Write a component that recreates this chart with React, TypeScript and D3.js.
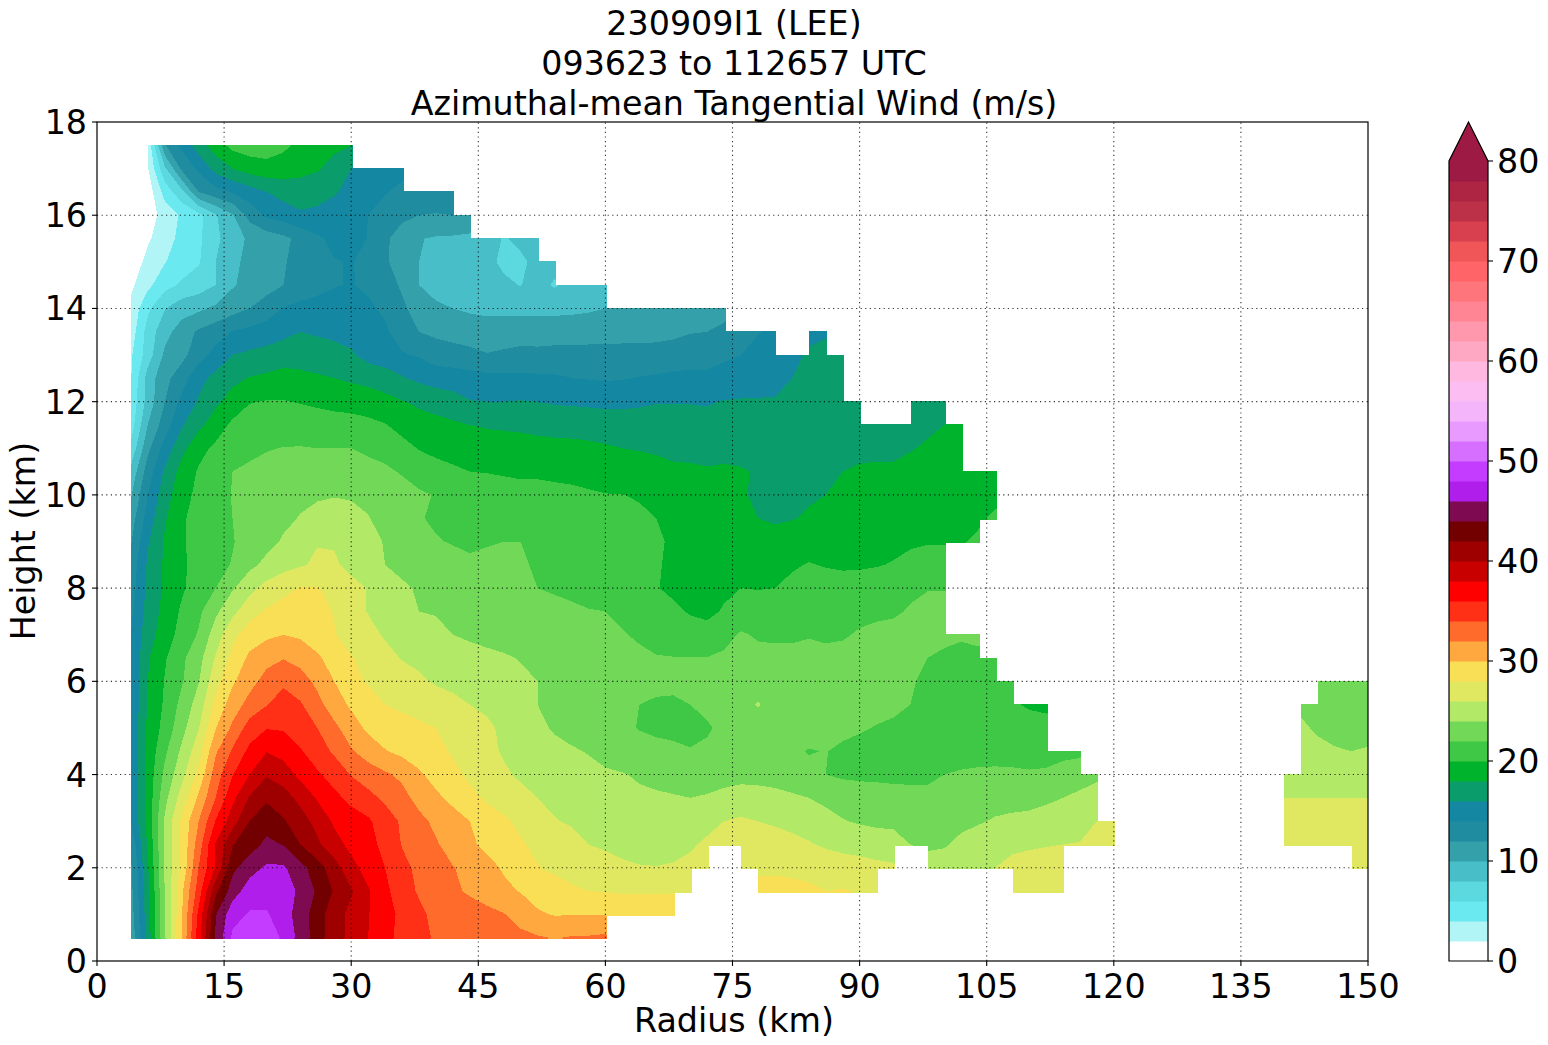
import * as React from 'react'
import * as d3 from 'd3'

const titleLines = ['230909I1 (LEE)', '093623 to 112657 UTC', 'Azimuthal-mean Tangential Wind (m/s)']
const xTicks = [0, 15, 30, 45, 60, 75, 90, 105, 120, 135, 150]
const yTicks = [0, 2, 4, 6, 8, 10, 12, 14, 16, 18]
const barTicks = [0, 10, 20, 30, 40, 50, 60, 70, 80]

// one colour per 2 m/s band, starting at 0
const bandColors = [
    '#ffffff', '#b2f5f7', '#6aeaf0', '#5bd9df', '#47bec8', '#34a0aa', '#1f8ca0', '#1488a2',
    '#0a9c6a', '#00b32d', '#3ec845', '#72d858', '#b2ea68', '#e0e862', '#f8df55', '#ffa840',
    '#ff6b2b', '#ff3016', '#ff0000', '#c80000', '#9e0000', '#720000', '#7e0a52', '#af1eea',
    '#c33cff', '#d66fff', '#e89aff', '#f4b5fb', '#fcbdf2', '#ffb8df', '#ffa8c4', '#ff97ad',
    '#ff8595', '#ff757c', '#ff6468', '#f05558', '#d8404f', '#bd3148', '#ad2543', '#9c1a44',
]

// wind by height, every 2 km starting at the radius given in windRows
const z05 = [10.5,16.8,23.9,30,37.2,44.3,48.4,49.5,49.5,47.6,45.3,43,40.8,39.5,38,36.5,35.5,34.5,33.8,33.4,33.2,33,32.8,32.5,32.2,31.9,32.15,32.2,32.4]
const z10 = [11,17.2,23.9,29.8,36.5,43.8,47.3,48.2,48.2,47,45,43,40.8,39.5,38.1,36.8,35.5,34.4,33.5,33.3,33,32.6,32.1,31.2,30.2,29.9,29.9,29.95,29.9,29.6,29.4,29.2,29]
const z15a = [11.4,17.4,24,29.6,35,41.5,45,47,47.2,47,45.6,43.7,41.8,40.2,38.2,36.5,34.8,33.8,33,32.4,31.7,31,30.4,29.9,29.4,28.9,28.3,28,27.9,27.8,27.8,27.8,27.9,27.7]
const z15b = [28.6,28.6,28.5,28.3,28,28.1,27.9,27.7]
const z15c = [27,27,27,27]
const z20a = [11.7,17.8,24.3,28.4,34,38.2,43.5,45.2,46.3,46.3,44.7,42.9,40.9,38.6,37.3,36,34.5,33.6,32.9,32.1,31.3,30.6,29.8,29,28.1,27.6,27.3,27,26.8,26.5,26.2,26.1,26.3,26.6,27]
const z20b = [27.4,27.7,27.7,27.6,27.5,27.3,27,26.8,26.5,26.3]
const z20c = [25,25,25,25.3,26,26.4,26.6,26.8,27]
const z20d = [27,27]
const z25a = [12.5,18.2,24.3,28.4,33,38.2,41.9,43,44.5,43.9,42,40.4,38.7,37.5,36.6,35.5,33.9,33,32.2,31.2,30.3,29.6,28.9,28.2,27.6,27.1,26.6,26,25.7,25.2,24.8,24.8,25,25.7,26.4,26.8,27.2,27.2,27,26.8,26.2,25.7,25.4,25.2,25,24.9,24,23.6,23.8,24.5,25,25.6,25.7,25.8,25.9,26,26.1,26.6,26.8]
const z25b = [27,27,27,27,26.9,26.8]
const z30a = [14,18.8,24.3,28.4,32,36.1,39.1,42,43.1,42.2,40.9,39.3,37.7,36.9,36.3,35,33.7,32.5,31.6,30.8,30,29.1,28.3,27.6,26.8,26.1,25.8,25.4,25,24.8,24.6,24.6,24.8,25,25.3,26,26.3,26,25.7,25.2,25,24.6,24.1,23.8,23.6,23.5,23.2,22.9,23,23.5,23.8,24.2,24.4,24.5,24.7,24.9,25.2,26,26.5]
const z30b = [26.5,26.5,26.5,26.5,26.5,26.5]
const z35a = [14,18.7,23.4,26.9,30.4,34,37.5,40.2,41.7,40.9,39.4,37.8,36.5,35.5,34.6,33.6,32.6,31.4,30.4,29.5,28.6,27.7,27.2,26.6,26,25.6,25.3,25,24.7,24.5,24.3,24.2,24.1,24,24.1,24.3,24.7,24.7,24.6,24.3,24,23.6,23.2,23,22.8,22.6,22.5,22.5,22.5,22.8,23,23.2,23.3,23.4,23.7,24,24.5,25]
const z35b = [26,26,26,26,26,26]
const z40a = [14.2,18.7,22.5,25.4,28.5,33,35.9,38,39.8,39,37.5,36.3,35.2,33.9,33,32.3,31.6,30.3,29.3,28.5,27.6,26.9,26.3,25.7,25.3,25,24.8,24.5,24.3,24.1,23.8,23.6,23.5,23.4,23.5,23.6,23.5,23.4,23.2,22.9,22.5,22,21.7,21.6,21.6,21.6,21.6,21.6,22,22.3,22.5,22.6,22.5,22.3,22.4,22.7,23,23.5]
const z40b = [25,25.2,25.2,25.2,25.2,25.2]
const z45a = [14.2,18.6,21.6,24.4,27.2,31.7,34.3,36.5,37.9,37.3,36.2,34.9,33.7,32.2,31.1,30.1,29.5,29,28.5,27.8,27,26.5,25.8,25.3,24.9,24.5,24.2,23.9,23.3,23,22.8,22.6,22.4,22.1,22.3,22.5,22.6,22.6,22.5,22.3,21.9,22.05,21.7,21.4,21.2,21,21,20.9,20.9,20.9,20.9,20.9,20.9,20.9,21,21.5,21.6]
const z45b = [25,24.6,24.2,24,24.2]
const z50a = [14.2,18.4,20.7,23.3,25.9,29.9,32.4,34.9,35.9,35.8,35,34,32.5,30.9,29.6,29.1,28.8,28.4,28,27.6,27,26.4,25.6,25,24.4,23.8,23.4,23.1,22.8,22.4,21.9,21.6,21.5,21.5,21.8,22.4,22.8,22.7,22.8,22.8,22.7,22.6,22.4,22.2,21.9,21.6,21.4,21.2,21,20.9,20.8,20.7,20.7,20.7,20.8]
const z50b = [24.4,23.7,23.3,23.2,23.2]
const z55a = [14.1,18.2,20.3,22.6,24.9,28.6,31,32.7,33.9,35,34.2,32.7,30.9,29.7,28.9,28,27.6,27.2,26.9,26.5,26,25.6,25.2,24.6,24,23.6,23.3,23,22.7,22.3,22,21.7,21.6,22,22.4,22.7,23,24.2,22.9,22.9,22.8,22.8,22.7,22.7,22.6,22.5,22,21.7,21.4,21.1,21,20.6,20.2,19.8,19.5]
const z55b = [23.6,23,23,23,23]
const z60a = [14.1,18,20.1,21.8,23.9,27.3,29.7,31.3,32.7,33.6,32.9,31.5,30,28.6,27.8,27.1,26.9,26.3,25.8,25.5,25.2,25,24.7,24.4,24,23.7,23.5,23.3,23.1,22.9,22.7,22.6,22.6,22.7,22.7,22.7,22.7,22.7,22.7,22.7,22.7,22.7,22.6,22.6,22.5,22.3,22.1,21.8,21.3,20.9,20.7,20.6,20.5]
const z60b = [23,23,23,23]
const z65 = [14,17.8,19.8,21.6,23.3,26.2,28.6,30.4,31.4,31.9,31.3,30.3,29.2,28.1,27.5,26.6,25.9,25.6,25.3,25,24.7,24.4,24.2,23.9,23.6,23.3,23.1,22.9,22.7,22.5,22.3,22.1,22.05,22.05,22.05,22.3,22.4,22.5,22.5,22.5,22.5,22.5,22.6,22.6,22.6,22.5,22.3,22,21.4,21.3,21.4,21.5]
const z70 = [14,17.1,19,20.7,22.2,25,27.5,29,29.6,30,29.7,29,28.1,27.2,26.6,25.8,25.3,24.9,24.4,24,23.7,23.5,23.3,23.2,23,22.9,22.8,22.5,22.2,22.1,21.8,21.4,21.2,21,20.8,21.4,22.2,21.8,21.7,21.7,21.9,21.7,21.8,22.2,22.5,22.7,23,23,22.8,22.3,22.6]
const z75 = [13.6,16.8,18.6,20.3,21.6,23.6,25.5,27.2,28.2,28.7,28.9,28.6,27.9,26.9,25.9,25.1,24.5,24,23.9,23.6,23.3,23.1,22.9,22.8,22.7,22.5,22.3,22.1,22,21.7,21.3,20.8,20.4,19.8,19.5,20.2,20.9,21.1,21,21.3,21.5,21.5,21.6,21.5,21.6,21.7,22.2,22.6,22.7]
const z80 = [13,16.5,18.3,19.7,21,22,23.8,25.4,26.7,27.5,28.1,28.1,27.4,26.7,25.9,25.2,24.3,23.8,23.4,23.1,22.9,22.6,22.4,22.2,22,21.8,21.6,21.3,21,20.7,20.4,20.1,19.6,19.1,19.1,19.6,20,19.9,20,20.4,20.8,20.7,20.6,20.7,20.9,21.2,21.6,21.9,21.9]
const z85 = [12.8,16.3,18.3,19.6,20.8,21.5,22.1,23.5,24.5,25.3,25.8,26.3,26.3,25.4,24.9,24,23.5,23,22.7,22.5,22.3,22.3,22.2,22.1,21.9,21.5,21.3,21,20.9,20.6,20.4,20.1,19.8,19.2,18.9,19.1,19.4,19.4,19.5,19.8,20.1,19.9,19.8,19.8,19.9,20.1,20.4,20.6,20.6]
const z90 = [11.8,15.8,18.2,19.7,21,21.2,21.9,22.7,23.4,24.2,25,25.9,25.8,25.1,24.5,23.9,22.9,22.4,22.1,21.9,21.7,21.9,22,22,21.7,21.4,21.2,21,20.8,20.5,20.2,20.2,19.8,19.3,19,18.9,18.7,18.6,18.8,19,19.2,19.3,19.4,19.3,19.5,19.6,19.8,19.9,19.9,19.9,20.2]
const z95 = [11,14.9,17.8,19.7,20.8,21.2,22,22.6,23.2,23.6,24.1,24.5,24.8,24.6,24.1,23.3,22.6,22.1,21.8,21.6,21.4,21.3,21.3,21.2,21,20.9,20.8,20.6,20.5,20.3,20.2,20,19.5,19.2,18.9,18.7,18.5,18,17.7,17.9,18.2,18.5,18.7,18.9,19,19.1,19.2,19.3,19.4,19.5,19.8,20.2]
const z100 = [9.8,14,17.2,19.1,20.6,21.2,22.1,22.7,23.1,23.4,23.6,23.8,23.9,23.8,23.5,23.2,22.9,22.3,21.9,21.7,21.5,21.4,21.2,21,21,20.6,20.4,20.2,20.05,20.02,19.9,19.6,19.3,19,18.8,18.5,18.2,17.7,17.2,17.5,17.8,18,18.3,18.6,18.7,18.7,18.8,19,19,19.1,19.4,19.7]
const z105 = [8.5,13,16.3,18.7,20.2,21.2,22,22.3,22.5,22.7,22.8,22.9,22.9,22.8,22.7,22.4,21.8,21.1,20.7,20.3,20,19.9,19.7,19.5,19.5,19.5,19.5,19.4,19.3,19,18.7,18.5,18.3,18.3,18.2,18.4,18.2,17.8,17,17.1,17.4,17.6,18,18.2,18.3,18.3,18.5,18.5,18.6,18.7,18.8,19]
const z110 = [6.5,11.5,14.8,17.4,19.4,20.4,21,21.6,21.9,22.05,22.1,22,22,22,21.6,21.2,20.6,19.9,19.5,19.3,19.1,19,18.9,18.8,18.7,18.6,18.5,18.4,18.2,18,17.9,17.8,17.6,17.5,17.3,17.2,17.2,17.2,17,17,17,17.1,17.2,17.6,17.6,17.6,17.9,18.2,18.4,18.4]
const z115 = [5,10,13,15.8,17.5,19,20.4,20.9,21.1,21.1,21,20.8,20.7,20.7,20.5,20.1,19.4,18.9,18.6,18.3,18,17.8,17.7,17.6,17.4,17.3,17.3,17.2,17.1,17,16.9,16.9,16.9,16.8,16.8,16.8,16.8,16.8,16.7,16.7,16.8,16.8,16.9,17,17,17.1,17.2,17.7,18,18.2]
const z120a = [4.5,8.8,12,14.5,16.2,17.6,18.8,19.9,20.1,20.1,19.9,19.7,19.5,19.3,19,18.6,18.1,17.6,17.2,16.8,16.1,16,16,16.1,16,15.8,15.7,15.6,15.5,15.5,15.7,15.9,15.9,15.9,15.8,16.1,16.2,16.2,16.2,16.3,16.3,16.3,16.4,16.5]
const z120b = [16.7,17,17.4]
const z125 = [3.9,8.9,11.4,13.1,15.4,16.6,17.5,18.1,18.4,18.8,18.6,18.3,18,17.7,17.4,17,16.2,15.6,15.2,15,14.8,14.6,14.5,14.5,14.4,14.3,14.05,13.9,13.8,13.9,14.1,14.3,14.5,14.6,14.6,14.7,14.8,15,15.2,16,16.3,16.4,16.4]
const z130 = [3.7,7,10.4,11.4,13.2,14.7,16,16.4,16.7,17,17,16.8,16.6,16.3,15.3,14.8,14.2,13.8,13,12.8,12.5,12.1,12.3,12.5,12.4,12.5,12.5,12.5,12.5,12.6,12.6,12.6,12.8,13,13,13.7,14,14.6,15,15.4,16.3,16.5,16.4]
const z135a = [2.9,6.8,9.3,10.9,12.3,13.1,14.1,14.5,14.9,15.5,16,15.8,15.6,15.2,14.7,14.3,13,12,11.6,11.3,11.1,11,11.1,11.2,11.3,11.3,11.3,11.4,11.4,11.4,11.4,11.5,11.6,11.9,12,12.3,12.9,13.9,14.3]
const z135b = [15.4,15.8]
const z140 = [2.5,5.6,7.9,9.2,9.6,10.4,11.2,12,13,14.1,14.6,14.8,14.8,14.6,14.3,13.7,12.4,11.1,10.5,10,9.7,9.5,9.5,9.4,9.4,9.4,9.5,9.7,10,10.2,10.3,10.4,10.5,10.6,10.7,11.5]
const z145 = [1.6,3.5,5.3,6.3,7,8,9.8,10.7,11.2,12,12.7,13.3,13.9,14.1,13.7,13,11.7,10,9,8.8,8.6,8.4,8.3,7.95,8.6,7.8,8.6,9.1,9.3]
const z150 = [0.5,2.7,3.9,5,5.8,8,9.4,10.7,11.3,11.9,12.4,13.2,13.9,14.1,13.5,12.3,11,10,9.5,9.2,8.9,8.4,7.7,7.6,8.6,8.5]
const z155 = [0.3,1.7,3.1,4.6,5.6,7.5,9.2,10.3,10.9,11.5,12.6,13.7,14.5,14.9,13.9,12.3,11.2,10.1,9.8,9.7,9.5,9.3,7.8,8.5,8.8]
const z160 = [0.2,1,2.8,4.3,5.4,7.8,9.8,12.7,14.4,15,15.7,15.5,15,14.5,14,13.3,12.4,12,11.9,12,11.8]
const z165 = [0.2,0.8,4.8,7.4,12,13.3,14.2,15.1,16,16.7,17,16.8,16.2,15.5,14.8,14.1,13.6,13.3,13,12.7]
const z170 = [1.9,7.6,12.4,14.4,16.7,18,18.9,19.3,19.1,18.6,18.2,17.2,16,15,14.6,14.5]
const z175 = [2.3,11.8,14.5,17,19,20.6,21,21,20.4,19.5,18.9,18.5,18]

// [height km, first radius km, values]
const windRows: [number, number, number[]][] = [
    [0.5, 4, z05], [1, 4, z10],
    [1.5, 4, z15a], [1.5, 78, z15b], [1.5, 108, z15c],
    [2, 4, z20a], [2, 76, z20b], [2, 98, z20c], [2, 148, z20d],
    [2.5, 4, z25a], [2.5, 140, z25b],
    [3, 4, z30a], [3, 140, z30b],
    [3.5, 4, z35a], [3.5, 140, z35b],
    [4, 4, z40a], [4, 140, z40b],
    [4.5, 4, z45a], [4.5, 142, z45b],
    [5, 4, z50a], [5, 142, z50b],
    [5.5, 4, z55a], [5.5, 142, z55b],
    [6, 4, z60a], [6, 144, z60b],
    [6.5, 4, z65], [7, 4, z70], [7.5, 4, z75], [8, 4, z80], [8.5, 4, z85],
    [9, 4, z90], [9.5, 4, z95], [10, 4, z100], [10.5, 4, z105], [11, 4, z110], [11.5, 4, z115],
    [12, 4, z120a], [12, 96, z120b],
    [12.5, 4, z125], [13, 4, z130],
    [13.5, 4, z135a], [13.5, 84, z135b],
    [14, 4, z140], [14.5, 4, z145], [15, 4, z150], [15.5, 4, z155], [16, 4, z160], [16.5, 4, z165],
    [17, 6, z170], [17.5, 6, z175],
]

const nx = 74 // 4..150 km
const ny = 35 // 0.5..17.5 km

const x = d3.scaleLinear().domain([0, 150]).range([97, 1368])
const y = d3.scaleLinear().domain([0, 18]).range([961, 122])
const barY = d3.scaleLinear().domain([0, 80]).range([961, 161])

const tickFont = 33.3
const font = '"DejaVu Sans", sans-serif'

export default function App() {
    const { paths, clip } = React.useMemo(() => {
        const grid: number[] = new Array(nx * ny).fill(NaN)
        windRows.forEach(([z, r0, vals]) => {
            const j = Math.round((z - 0.5) / 0.5)
            const i0 = Math.round((r0 - 4) / 2)
            vals.forEach((v, k) => { grid[j * nx + i0 + k] = v })
        })

        // quads with all four corners are the only ones drawn
        let clip = ''
        for (let j = 0; j < ny - 1; j++) {
            for (let i = 0; i < nx - 1; i++) {
                const a = j * nx + i
                if (isNaN(grid[a]) || isNaN(grid[a + 1]) || isNaN(grid[a + nx]) || isNaN(grid[a + nx + 1])) continue
                const r = 4 + i * 2
                const z = 0.5 + j * 0.5
                // the reference is not antialiased, its cells cover whole pixels
                const x0 = Math.ceil(x(r))
                const x1 = Math.min(Math.ceil(x(r + 2)) + 1, 1368)
                const y0 = Math.ceil(y(z)) + 1
                const y1 = Math.floor(y(z + 0.5))
                clip += `M${x0},${y0}H${x1}V${y1}H${x0}Z`
            }
        }

        // spread edge values outward so contours stay right up to the mask edge
        const filled = grid.slice()
        let left = true
        while (left) {
            left = false
            const prev = filled.slice()
            for (let j = 0; j < ny; j++) {
                for (let i = 0; i < nx; i++) {
                    const a = j * nx + i
                    if (!isNaN(prev[a])) continue
                    const near: number[] = []
                    if (i > 0) near.push(prev[a - 1])
                    if (i < nx - 1) near.push(prev[a + 1])
                    if (j > 0) near.push(prev[a - nx])
                    if (j < ny - 1) near.push(prev[a + nx])
                    const ok = near.filter(v => !isNaN(v))
                    if (ok.length) filled[a] = d3.mean(ok) as number
                    else left = true
                }
            }
        }

        const levels = bandColors.map((_, i) => i * 2).slice(1)
        const contours = d3.contours().size([nx, ny]).thresholds(levels)(filled)
        const path = d3.geoPath(d3.geoTransform({
            point(px: number, py: number) {
                // contour coordinates sit half a cell off the grid index
                (this as any).stream.point(x(4 + (px - 0.5) * 2), y(0.5 + (py - 0.5) * 0.5))
            },
        }))
        const paths = contours
            .filter(c => c.coordinates.length > 0)
            .map(c => ({ value: c.value, d: path(c as any) || '', color: bandColors[c.value / 2] }))
        return { paths, clip }
    }, [])

    const mid = (x(0) + x(150)) / 2 + 1.5

    return <svg width={1548} height={1045} style={{ position: 'absolute', left: 0, top: 0 }} fontFamily={font}>
        <rect width={1548} height={1045} fill='white' />
        <defs>
            <clipPath id='mask'><path d={clip} /></clipPath>
        </defs>
        <g clipPath='url(#mask)' shapeRendering='crispEdges'>
            {paths.map(p => <path key={p.value} d={p.d} fill={p.color} />)}
        </g>

        {/* grid */}
        <g stroke='black' strokeWidth={1.1} strokeDasharray='1.2 3.4' opacity={0.8}>
            {xTicks.slice(1, -1).map(t => <line key={t} x1={x(t)} x2={x(t)} y1={y(0)} y2={y(18)} />)}
            {yTicks.slice(1, -1).map(t => <line key={t} x1={x(0)} x2={x(150)} y1={y(t)} y2={y(t)} />)}
        </g>

        {/* axes */}
        <rect x={x(0)} y={y(18)} width={x(150) - x(0)} height={y(0) - y(18)} fill='none' stroke='black' strokeWidth={1.2} />
        <g stroke='black' strokeWidth={1.1}>
            {xTicks.map(t => <line key={t} x1={x(t)} x2={x(t)} y1={961} y2={966} />)}
            {yTicks.map(t => <line key={t} x1={92} x2={97} y1={y(t)} y2={y(t)} />)}
        </g>
        <g fontSize={tickFont} fill='black'>
            {xTicks.map(t => <text key={t} x={x(t)} y={998} textAnchor='middle'>{t}</text>)}
            {yTicks.map(t => <text key={t} x={87} y={y(t) + 12} textAnchor='end'>{t}</text>)}
            <text x={mid} y={1032} textAnchor='middle'>Radius (km)</text>
            <text transform={`translate(35,541) rotate(-90)`} textAnchor='middle'>Height (km)</text>
            {titleLines.map((t, i) => <text key={t} x={mid} y={35 + i * 40} textAnchor='middle'>{t}</text>)}
        </g>

        {/* colour bar */}
        {bandColors.map((c, i) => <rect key={c} x={1449} width={39} y={barY(i * 2 + 2)} height={barY(i * 2) - barY(i * 2 + 2) + 0.5} fill={c} />)}
        <path d={`M1449,${barY(80)}L1468.5,122L1488,${barY(80)}Z`} fill={bandColors[39]} />
        <path d={`M1449,${barY(0)}V${barY(80)}L1468.5,122L1488,${barY(80)}V${barY(0)}Z`} fill='none' stroke='black' strokeWidth={1.2} />
        <g stroke='black' strokeWidth={1.1}>
            {barTicks.map(t => <line key={t} x1={1488} x2={1493} y1={barY(t)} y2={barY(t)} />)}
        </g>
        <g fontSize={tickFont} fill='black'>
            {barTicks.map(t => <text key={t} x={1497} y={barY(t) + 12}>{t}</text>)}
        </g>
    </svg>
}
